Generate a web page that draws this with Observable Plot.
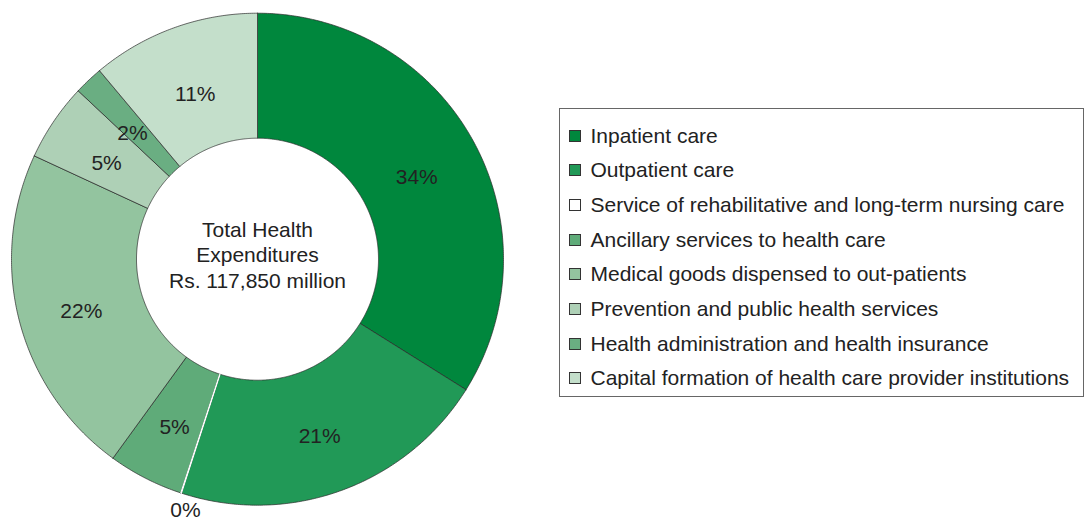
<!DOCTYPE html>
<html>
<head>
<meta charset="utf-8">
<script src="https://cdn.jsdelivr.net/npm/d3@7"></script>
<script src="https://cdn.jsdelivr.net/npm/@observablehq/plot@0.6"></script>
<style>
  html, body { margin: 0; padding: 0; background: #fff; }
  #wrap { position: relative; width: 1086px; height: 521px; font-family: "Liberation Sans", Arial, sans-serif; }
  #legend { position: absolute; left: 559px; top: 108px; width: 525px; height: 289px; box-sizing: border-box;
            border: 1px solid #666; padding-top: 9.5px; }
  .row { display: flex; align-items: center; height: 34.67px; font-size: 21px; color: #222; white-space: nowrap; }
  .sw { width: 12px; height: 12px; box-sizing: border-box; border: 1px solid #333; margin-left: 9px; margin-right: 9.5px; flex: none; }
</style>
</head>
<body>
<div id="wrap"></div>
<script>
const categories = [
  "Inpatient care",
  "Outpatient care",
  "Service of rehabilitative and long-term nursing care",
  "Ancillary services to health care",
  "Medical goods dispensed to out-patients",
  "Prevention and public health services",
  "Health administration and health insurance",
  "Capital formation of health care provider institutions"
];
const shares = [33.9, 21.1, 0.05, 4.95, 21.9, 5.1, 1.9, 11.1];
const pctLabels = ["34%", "21%", "0%", "5%", "22%", "5%", "2%", "11%"];
const colors = ["#00873d", "#219957", "#ffffff", "#5fab79", "#93c49f", "#aed0b6", "#6aae82", "#c4dfcb"];
const centerTitle = "Total Health\nExpenditures\nRs. 117,850 million";

const cx = 257, cy = 258.7, R = 246;
const inner = 121 / 246;
const total = d3.sum(shares);

// build slices from data
let cum = 0;
const slices = categories.map((name, i) => {
  const a0 = cum / total * 2 * Math.PI;
  cum += shares[i];
  const a1 = cum / total * 2 * Math.PI;
  return {name, a0, a1, mid: (a0 + a1) / 2, label: pctLabels[i], share: shares[i]};
});

const pts = [];
for (const s of slices) {
  const n = Math.max(2, Math.ceil((s.a1 - s.a0) * 120));
  const ring = [];
  for (let k = 0; k <= n; k++) {
    const a = s.a0 + (s.a1 - s.a0) * k / n;
    ring.push({name: s.name, x: Math.sin(a), y: Math.cos(a)});
  }
  for (let k = n; k >= 0; k--) {
    const a = s.a0 + (s.a1 - s.a0) * k / n;
    ring.push({name: s.name, x: inner * Math.sin(a), y: inner * Math.cos(a)});
  }
  ring.push({...ring[0]});
  pts.push(...ring);
}

const rehab = categories[2];
const labelData = slices.map(s => {
  const r = s.share < 1 ? 1.06 : 0.74;
  return {label: s.label, small: s.share < 1, x: r * Math.sin(s.mid), y: r * Math.cos(s.mid)};
});

const plot = Plot.plot({
  width: 1086,
  height: 521,
  margin: 0,
  x: {axis: null, domain: [-1, 1], range: [cx - R, cx + R]},
  y: {axis: null, domain: [-1, 1], range: [cy + R, cy - R]},
  color: {domain: categories, range: colors},
  style: {fontFamily: "'Liberation Sans', Arial, sans-serif", background: "#fff"},
  marks: [
    Plot.line(pts.filter(d => d.name !== rehab), {x: "x", y: "y", z: "name", fill: "name", stroke: "#2a2a2a", strokeWidth: 0.7, curve: "linear"}),
    Plot.line(pts.filter(d => d.name === rehab), {x: "x", y: "y", z: "name", fill: "name", stroke: "#ffffff", strokeWidth: 1, curve: "linear"}),
    Plot.text(labelData.filter(d => !d.small), {x: "x", y: "y", text: "label", fontSize: 21, fill: "#222", dy: 6}),
    Plot.text(labelData.filter(d => d.small), {x: "x", y: "y", text: "label", fontSize: 21, fill: "#222", dx: 9, dy: 3}),
    Plot.text([centerTitle], {x: () => 0, y: () => 0, text: d => d, fontSize: 21, lineHeight: 1.22, fill: "#222", dy: -5})
  ]
});

const wrap = document.getElementById("wrap");
wrap.appendChild(plot);

const legend = document.createElement("div");
legend.id = "legend";
categories.forEach((c, i) => {
  const row = document.createElement("div");
  row.className = "row";
  const sw = document.createElement("span");
  sw.className = "sw";
  sw.style.background = colors[i];
  const tx = document.createElement("span");
  tx.textContent = c;
  row.appendChild(sw);
  row.appendChild(tx);
  legend.appendChild(row);
});
wrap.appendChild(legend);
</script>
</body>
</html>
